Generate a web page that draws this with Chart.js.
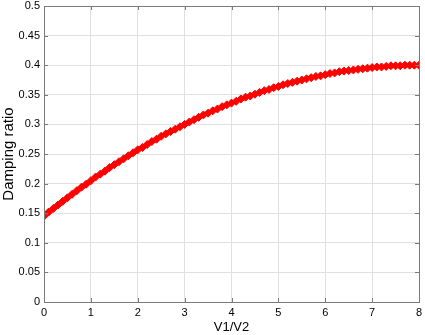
<!DOCTYPE html>
<html>
<head>
<meta charset="utf-8">
<script src="https://cdn.jsdelivr.net/npm/chart.js"></script>
<style>
  html, body { margin: 0; padding: 0; background: #fff; }
  #wrap { width: 425px; height: 335px; }
</style>
</head>
<body>
<div id="wrap"><canvas id="dampChart"></canvas></div>
<script>
// V1/V2 sample points
const ratioX = [
  0, 0.1, 0.2, 0.3, 0.4, 0.5, 0.6, 0.7, 0.8, 0.9,
  1, 1.1, 1.2, 1.3, 1.4, 1.5, 1.6, 1.7, 1.8, 1.9,
  2, 2.1, 2.2, 2.3, 2.4, 2.5, 2.6, 2.7, 2.8, 2.9,
  3, 3.1, 3.2, 3.3, 3.4, 3.5, 3.6, 3.7, 3.8, 3.9,
  4, 4.1, 4.2, 4.3, 4.4, 4.5, 4.6, 4.7, 4.8, 4.9,
  5, 5.1, 5.2, 5.3, 5.4, 5.5, 5.6, 5.7, 5.8, 5.9,
  6, 6.1, 6.2, 6.3, 6.4, 6.5, 6.6, 6.7, 6.8, 6.9,
  7, 7.1, 7.2, 7.3, 7.4, 7.5, 7.6, 7.7, 7.8, 7.9,
  8
];
// damping ratio
const damping = [
  0.145, 0.152, 0.158, 0.164, 0.170, 0.176, 0.182, 0.188, 0.194, 0.199,
  0.205, 0.211, 0.216, 0.221, 0.227, 0.232, 0.237, 0.242, 0.247, 0.252,
  0.257, 0.261, 0.266, 0.271, 0.275, 0.280, 0.284, 0.288, 0.292, 0.296,
  0.300, 0.304, 0.308, 0.312, 0.316, 0.319, 0.323, 0.326, 0.330, 0.333,
  0.336, 0.339, 0.343, 0.346, 0.348, 0.351, 0.354, 0.357, 0.359, 0.362,
  0.364, 0.367, 0.369, 0.371, 0.373, 0.375, 0.377, 0.379, 0.381, 0.382,
  0.384, 0.386, 0.387, 0.389, 0.390, 0.391, 0.392, 0.393, 0.394, 0.395,
  0.396, 0.397, 0.397, 0.398, 0.399, 0.399, 0.399, 0.400, 0.400, 0.400,
  0.400
];
const xTicks = [0, 1, 2, 3, 4, 5, 6, 7, 8];
const yTicks = [0, 0.05, 0.1, 0.15, 0.2, 0.25, 0.3, 0.35, 0.4, 0.45, 0.5];

const points = ratioX.map((x, i) => ({ x: x, y: damping[i] }));

// box round the plot area + short inward tick marks, matlab style
const boxPlugin = {
  id: 'plotBox',
  afterDatasetsDraw(chart) {
    const { ctx, chartArea: a, scales } = chart;
    ctx.save();
    ctx.strokeStyle = '#7a7a7a';
    ctx.lineWidth = 1;
    ctx.beginPath();
    scales.x.ticks.forEach(t => {
      const px = Math.round(scales.x.getPixelForValue(t.value)) + 0.5;
      ctx.moveTo(px, a.bottom); ctx.lineTo(px, a.bottom - 4);
      ctx.moveTo(px, a.top); ctx.lineTo(px, a.top + 4);
    });
    scales.y.ticks.forEach(t => {
      const py = Math.round(scales.y.getPixelForValue(t.value)) + 0.5;
      ctx.moveTo(a.left, py); ctx.lineTo(a.left + 4, py);
      ctx.moveTo(a.right, py); ctx.lineTo(a.right - 4, py);
    });
    ctx.stroke();
    ctx.strokeRect(a.left + 0.5, a.top + 0.5, a.right - a.left, a.bottom - a.top);
    ctx.restore();
  }
};

Chart.defaults.font.family = '"Liberation Sans", Arial, sans-serif';
Chart.defaults.color = '#000';

new Chart(document.getElementById('dampChart'), {
  type: 'scatter',
  data: {
    datasets: [{
      label: 'Damping ratio',
      data: points,
      showLine: false,
      pointStyle: 'rectRot',
      pointRadius: 4,
      pointBackgroundColor: '#ff0000',
      pointBorderColor: '#ff0000',
      pointBorderWidth: 1
    }]
  },
  options: {
    responsive: true,
    maintainAspectRatio: false,
    animation: false,
    layout: { padding: { top: 6, right: 6, left: 0, bottom: 0 } },
    plugins: {
      legend: { display: false },
      tooltip: { enabled: false }
    },
    scales: {
      x: {
        type: 'linear',
        min: 0,
        max: 8,
        afterBuildTicks: s => { s.ticks = xTicks.map(v => ({ value: v })); },
        afterFit: s => { s.height = 33; s.paddingLeft = 0; s.paddingRight = 0; },
        grid: { color: '#e0e0e0', drawTicks: false },
        border: { display: false },
        ticks: { padding: 4, font: { size: 11 }, maxRotation: 0, callback: v => String(v) },
        title: { display: true, text: 'V1/V2', font: { size: 13 }, padding: { top: 0, bottom: 0 } }
      },
      y: {
        type: 'linear',
        min: 0,
        max: 0.5,
        afterBuildTicks: s => { s.ticks = yTicks.map(v => ({ value: v })); },
        afterFit: s => { s.width = 44; s.paddingTop = 0; s.paddingBottom = 0; },
        grid: { color: '#e0e0e0', drawTicks: false },
        border: { display: false },
        ticks: { padding: 4, font: { size: 11 }, callback: v => String(+v.toFixed(2)) },
        title: { display: true, text: 'Damping ratio', font: { size: 15 }, padding: { top: 0, bottom: 0 } }
      }
    }
  },
  plugins: [boxPlugin]
});
</script>
</body>
</html>
